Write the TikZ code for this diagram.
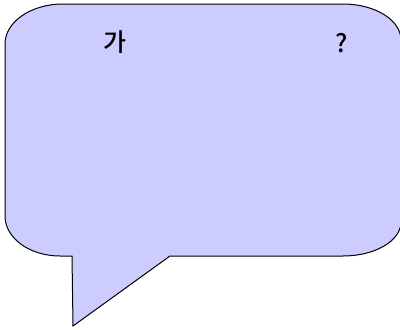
\documentclass[tikz,border=0pt]{standalone}
\usepackage{fontspec}
\newfontfamily\krfont{Noto Sans CJK KR Medium}[BoldFont={Noto Sans CJK KR Bold}]
\definecolor{bubble}{HTML}{CCCCFF}
\tikzset{bubbleline/.style={draw=black, fill=bubble, line width=1pt, line join=miter},
  bubbletext/.style={font=\krfont\fontsize{25}{28}\selectfont, text=black, inner sep=0pt}}
\begin{document}
\begin{tikzpicture}[x=1pt,y=1pt]
\useasboundingbox (0,0) rectangle (400,-330);
\clip (0,0) rectangle (400,-330);
\path[bubbleline] (72,-256) -- (73,-326) -- (170,-256) -- (343,-256)
  arc[start angle=270, end angle=360, x radius=58, y radius=34] -- (401,-40)
  arc[start angle=0, end angle=90, x radius=58, y radius=36] -- (63,-4)
  arc[start angle=90, end angle=180, x radius=58, y radius=40] -- (5,-216)
  arc[start angle=180, end angle=270, x radius=55, y radius=40] -- cycle;
\node[bubbletext] (ga) at (115,-42) {가};
\node[bubbletext] (q) at (342,-43) {?};
\end{tikzpicture}
\end{document}
